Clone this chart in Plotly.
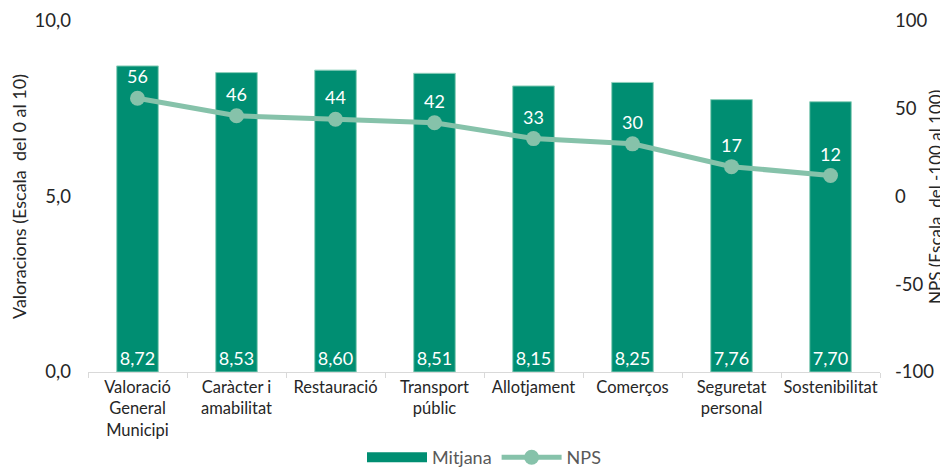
import plotly.graph_objects as go

categories = [
    "Valoració<br>General<br>Municipi",
    "Caràcter i<br>amabilitat",
    "Restauració",
    "Transport<br>públic",
    "Allotjament",
    "Comerços",
    "Seguretat<br>personal",
    "Sostenibilitat",
]
mitjana = [8.72, 8.53, 8.60, 8.51, 8.15, 8.25, 7.76, 7.70]
nps = [56, 46, 44, 42, 33, 30, 17, 12]
nps_ticks = [-100, -50, 0, 50, 100]
nps_ticktext = ["-100", "-50", "0", "50", "100"]

BAR_GREEN = "#008E72"
LINE_GREEN = "#86C2AA"
FONT = "Lato, 'Open Sans', sans-serif"

fig = go.Figure()

fig.add_trace(go.Bar(
    x=categories,
    y=mitjana,
    name="Mitjana",
    showlegend=False,
    marker=dict(color=BAR_GREEN, line=dict(color="#8FD0BC", width=1)),
    width=0.42,
    texttemplate="%{y:.2f}",
    textposition="inside",
    insidetextanchor="start",
    textfont=dict(color="white", size=18, family=FONT),
    textangle=0,
))

# legend-only entry so the key is a wide rectangle like the original
fig.add_trace(go.Scatter(
    x=[None],
    y=[None],
    name="Mitjana",
    mode="lines",
    line=dict(color=BAR_GREEN, width=13),
))

fig.add_trace(go.Scatter(
    x=categories,
    y=nps,
    name="NPS",
    yaxis="y2",
    mode="lines+markers+text",
    line=dict(color=LINE_GREEN, width=5),
    marker=dict(color=LINE_GREEN, size=15),
    text=[str(v) for v in nps],
    textposition="top center",
    textfont=dict(color="white", size=18, family=FONT),
))

# page body has an 8px margin, so the figure is 8px smaller each way
fig.update_layout(
    width=940,
    height=468,
    separators=",.",
    font=dict(family=FONT, color="#262626", size=16),
    plot_bgcolor="white",
    paper_bgcolor="white",
    margin=dict(l=80, r=68, t=13, b=104, autoexpand=False),
    showlegend=True,
    legend=dict(
        orientation="h",
        x=0.5,
        xanchor="center",
        yref="container",
        y=0.0,
        yanchor="bottom",
        font=dict(size=18, color="#595959"),
        itemwidth=60,
    ),
    xaxis=dict(
        automargin=False,
        tickangle=0,
        showline=True,
        linecolor="#D9D9D9",
        linewidth=1,
        ticks="outside",
        tickson="boundaries",
        ticklen=5,
        tickcolor="#D9D9D9",
        tickfont=dict(size=16.5, color="#262626"),
        showgrid=False,
    ),
    yaxis=dict(
        automargin=False,
        range=[0, 10],
        tickvals=[0, 5, 10],
        tickformat=".1f",
        ticklabeloverflow="allow",
        showgrid=False,
        zeroline=False,
        tickfont=dict(size=18.5, color="#262626"),
        ticklabelstandoff=16,
        title=dict(text="Valoracions (Escala  del 0 al 10)", font=dict(size=18, color="#262626"), standoff=14),
    ),
    yaxis2=dict(
        automargin=False,
        range=[-100, 100],
        tickvals=nps_ticks,
        ticktext=nps_ticktext,
        ticklabeloverflow="allow",
        overlaying="y",
        side="right",
        showgrid=False,
        zeroline=False,
        tickfont=dict(size=18.5, color="#262626"),
        ticklabelstandoff=14,
    ),
    annotations=[dict(
        text="NPS (Escala  del -100 al 100)",
        textangle=-90,
        xref="paper",
        yref="paper",
        x=1.07,
        y=0.5,
        xanchor="center",
        yanchor="middle",
        showarrow=False,
        font=dict(size=17, color="#262626"),
    )],
)

fig.write_html("out.html")
